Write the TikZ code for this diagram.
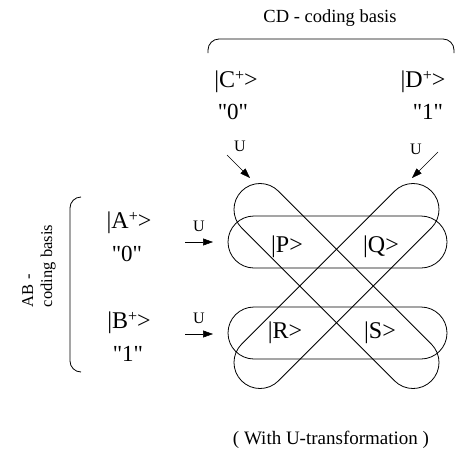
\documentclass[tikz,border=0pt]{standalone}
\usepackage{fontspec}
\setmainfont{Liberation Serif}
\usetikzlibrary{arrows.meta}

% raised plus of the basis kets
\newcommand{\kplus}{\raisebox{7pt}{\fontsize{16}{16}\selectfont +}}

\begin{document}
\begin{tikzpicture}[x=1pt, y=1pt,
    ket/.style={anchor=base, inner sep=0pt, font=\fontsize{24}{24}\selectfont},
    bit/.style={anchor=base, inner sep=0pt, font=\fontsize{23}{23}\selectfont},
    ulbl/.style={anchor=base, inner sep=0pt, font=\fontsize{16}{16}\selectfont},
    title/.style={anchor=base, inner sep=0pt, font=\fontsize{18.5}{18.5}\selectfont},
    uarrow/.style={line width=0.5pt, -{Triangle[length=10pt, width=7pt]}},
    stad/.style={line width=0.8pt, rounded corners=26pt},
    brace/.style={line width=0.8pt, rounded corners=11pt}]
  \useasboundingbox (0,0) rectangle (458,-453);

  % CD basis on top
  \node[title] (cdlbl) at (330,-22) {CD - coding basis};
  \draw[brace] (208,-53) -- (208,-39) -- (454,-39) -- (454,-53);
  \node[ket] (cket) at (236,-87) {|C\kplus>};
  \node[ket] (dket) at (423,-87) {|D\kplus>};
  \node[bit] (czero) at (233,-119) {\textquotedbl0\textquotedbl};
  \node[bit] (done) at (428,-119) {\textquotedbl1\textquotedbl};
  \node[ulbl] (uc) at (240,-151) {U};
  \node[ulbl] (ud) at (416,-154) {U};
  \coordinate (cfrom) at (227,-155);
  \coordinate (cto) at (250,-178);
  \coordinate (dfrom) at (438,-152);
  \coordinate (dto) at (412,-178);
  \draw[uarrow] (cfrom) -- (cto);
  \draw[uarrow] (dfrom) -- (dto);

  % AB basis on the left
  \node[rotate=90, align=left, inner sep=0pt,
    font=\fontsize{16.5}{19}\selectfont] (ablbl) at (39,-266) {AB -\\coding basis};
  \draw[brace] (81,-197) -- (70,-197) -- (70,-372) -- (81,-372);
  \node[ket] (aket) at (129,-228) {|A\kplus>};
  \node[bit] (azero) at (127,-261) {\textquotedbl0\textquotedbl};
  \node[ket] (bket) at (129,-328) {|B\kplus>};
  \node[bit] (bone) at (128,-361) {\textquotedbl1\textquotedbl};
  \node[ulbl] (ua) at (199,-231) {U};
  \node[ulbl] (ub) at (199,-323) {U};
  \coordinate (afrom) at (185,-242);
  \coordinate (ato) at (213,-242);
  \coordinate (bfrom) at (185,-334);
  \coordinate (bto) at (213,-334);
  \draw[uarrow] (afrom) -- (ato);
  \draw[uarrow] (bfrom) -- (bto);

  % the four overlapping stadiums
  \draw[stad] (228,-216) rectangle (447,-268);
  \draw[stad] (228,-307) rectangle (447,-359);
  \draw[stad, rotate around={-45:(336.5,-286)}] (202.3,-312) rectangle (470.7,-260);
  \draw[stad, rotate around={45:(336.5,-286)}] (202.3,-312) rectangle (470.7,-260);

  \node[ket] (pket) at (287,-252) {|P>};
  \node[ket] (qket) at (381,-252) {|Q>};
  \node[ket] (rket) at (285,-338) {|R>};
  \node[ket] (sket) at (380,-338) {|S>};

  \node[title, font=\fontsize{19}{19}\selectfont] (note) at (331,-444) {( With U-transformation )};
\end{tikzpicture}
\end{document}
